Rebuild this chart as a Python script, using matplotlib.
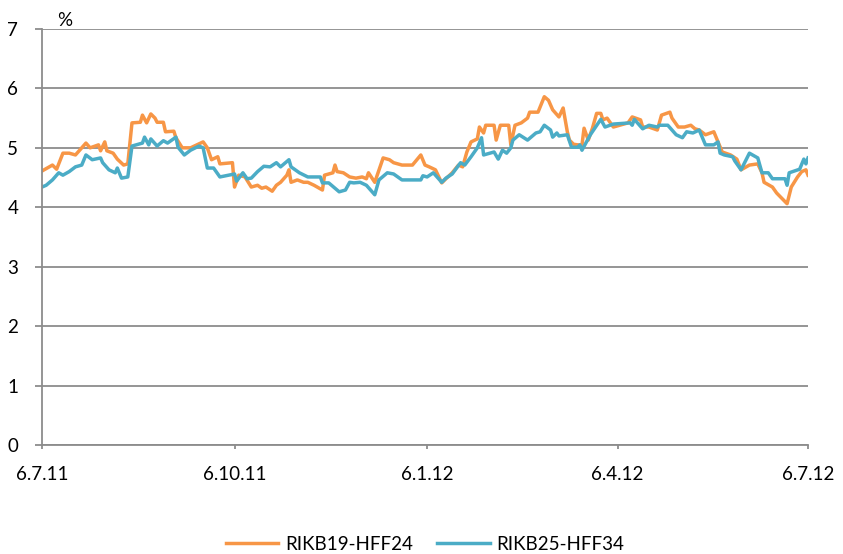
import pandas as pd
import matplotlib
matplotlib.use("Agg")
import matplotlib.pyplot as plt

# data (days after 6.7.11, yield in %)
start = pd.Timestamp("2011-07-06")

days_rikb19 = [0, 5, 7, 10, 13, 16, 18, 21, 23, 27, 28, 30, 31, 34, 36, 39, 41, 42, 43, 47,
               48, 50, 52, 54, 55, 58, 59, 63, 64, 67, 71, 77, 79, 81, 84, 85, 91, 92, 94, 97,
               100, 103, 105, 107, 110, 112, 114, 117, 118, 119, 122, 125, 127, 130, 134, 135, 139, 140, 141, 144,
               147, 150, 153, 155, 156, 159, 163, 166, 168, 172, 177, 181, 183, 185, 188, 191, 193, 196, 199, 201,
               203, 205, 208, 209, 211, 212, 216, 217, 219, 223, 224, 226, 229, 232, 233, 237, 240, 242, 244, 247,
               249, 251, 252, 254, 256, 258, 259, 261, 263, 265, 267, 268, 270, 273, 280, 282, 286, 287, 290, 294,
               296, 300, 301, 304, 307, 310, 312, 314, 317, 321, 323, 325, 329, 332, 334, 338, 342, 344, 345, 349,
               351, 356, 358, 361, 363, 365, 366]
rikb19 = [4.61, 4.71, 4.64, 4.91, 4.91, 4.88, 4.96, 5.08, 5.00, 5.05, 4.95, 5.10, 4.95, 4.91, 4.81, 4.71, 4.73, 5.08, 5.42, 5.43,
          5.55, 5.42, 5.57, 5.50, 5.43, 5.43, 5.27, 5.28, 5.17, 5.00, 5.00, 5.10, 5.00, 4.80, 4.85, 4.73, 4.75, 4.34, 4.54, 4.51,
          4.34, 4.37, 4.32, 4.34, 4.27, 4.37, 4.42, 4.54, 4.63, 4.42, 4.46, 4.42, 4.42, 4.37, 4.29, 4.54, 4.58, 4.71, 4.60, 4.58,
          4.51, 4.49, 4.51, 4.48, 4.58, 4.42, 4.83, 4.80, 4.75, 4.71, 4.71, 4.88, 4.71, 4.68, 4.63, 4.41, 4.48, 4.58, 4.71, 4.68,
          4.93, 5.10, 5.15, 5.35, 5.25, 5.38, 5.38, 5.13, 5.38, 5.38, 5.05, 5.38, 5.42, 5.50, 5.60, 5.60, 5.86, 5.80, 5.64, 5.52,
          5.67, 5.27, 5.13, 5.06, 5.05, 5.05, 5.33, 5.13, 5.33, 5.58, 5.58, 5.47, 5.50, 5.35, 5.42, 5.52, 5.47, 5.35, 5.35, 5.30,
          5.55, 5.60, 5.50, 5.35, 5.35, 5.38, 5.32, 5.30, 5.22, 5.27, 5.10, 4.93, 4.88, 4.81, 4.63, 4.71, 4.73, 4.58, 4.42, 4.34,
          4.24, 4.06, 4.34, 4.51, 4.60, 4.63, 4.54]

days_rikb25 = [0, 2, 5, 8, 10, 13, 16, 19, 21, 24, 28, 29, 32, 35, 36, 38, 41, 43, 48, 49,
               51, 52, 55, 58, 60, 64, 65, 68, 71, 75, 77, 79, 82, 85, 92, 93, 96, 98, 100, 103,
               106, 109, 112, 114, 118, 119, 123, 127, 133, 134, 137, 140, 142, 145, 147, 149, 152, 155, 159, 161,
               165, 168, 172, 181, 182, 184, 187, 191, 193, 196, 200, 202, 205, 208, 210, 211, 214, 216, 218, 220,
               222, 224, 225, 228, 232, 236, 238, 240, 243, 244, 246, 247, 251, 253, 256, 257, 258, 262, 267, 269,
               273, 281, 282, 283, 287, 290, 294, 295, 299, 303, 306, 308, 311, 314, 317, 321, 323, 324, 326, 330,
               331, 334, 338, 342, 344, 347, 349, 355, 356, 357, 362, 364, 365, 366]
rikb25 = [4.34, 4.37, 4.46, 4.58, 4.54, 4.60, 4.68, 4.71, 4.88, 4.80, 4.83, 4.75, 4.63, 4.58, 4.66, 4.49, 4.51, 5.03, 5.08, 5.18,
          5.05, 5.15, 5.03, 5.12, 5.08, 5.18, 5.01, 4.88, 4.96, 5.03, 5.00, 4.66, 4.66, 4.51, 4.56, 4.44, 4.58, 4.48, 4.49, 4.60,
          4.69, 4.68, 4.75, 4.68, 4.80, 4.68, 4.58, 4.51, 4.51, 4.41, 4.41, 4.32, 4.26, 4.29, 4.42, 4.41, 4.42, 4.37, 4.21, 4.46,
          4.58, 4.56, 4.46, 4.46, 4.53, 4.51, 4.58, 4.42, 4.49, 4.56, 4.75, 4.71, 4.85, 5.00, 5.17, 4.88, 4.91, 4.93, 4.81, 4.96,
          4.91, 5.00, 5.13, 5.22, 5.13, 5.25, 5.27, 5.38, 5.30, 5.18, 5.25, 5.20, 5.22, 5.01, 5.01, 5.05, 4.96, 5.22, 5.48, 5.35,
          5.40, 5.42, 5.38, 5.48, 5.32, 5.38, 5.35, 5.38, 5.38, 5.22, 5.17, 5.27, 5.25, 5.30, 5.05, 5.05, 5.10, 4.91, 4.88, 4.85,
          4.78, 4.63, 4.91, 4.83, 4.58, 4.58, 4.48, 4.48, 4.37, 4.58, 4.64, 4.81, 4.73, 4.83]

tick_dates = ["2011-07-06", "2011-10-06", "2012-01-06", "2012-04-06", "2012-07-06"]
tick_labels = ["6.7.11", "6.10.11", "6.1.12", "6.4.12", "6.7.12"]

orange = "#F79646"
blue = "#4BACC6"
grey = "#8C8C8C"

plt.rcParams["font.family"] = ["Lato", "DejaVu Sans"]

fig = plt.figure(figsize=(8.43, 5.54), dpi=100)
ax = fig.add_axes([0.0498, 0.1968, 0.9087, 0.7509])

x19 = start + pd.to_timedelta(days_rikb19, unit="D")
x25 = start + pd.to_timedelta(days_rikb25, unit="D")
ax.plot(x19, rikb19, color=orange, lw=2.5, label="RIKB19-HFF24", solid_joinstyle="round")
ax.plot(x25, rikb25, color=blue, lw=2.5, label="RIKB25-HFF34", solid_joinstyle="round")

ax.set_ylim(0, 7)
ax.set_yticks(range(0, 8))
ax.set_xlim(pd.Timestamp(tick_dates[0]), pd.Timestamp(tick_dates[-1]))
ax.set_xticks(pd.to_datetime(tick_dates))
ax.set_xticklabels(tick_labels)

ax.grid(axis="y", color=grey, lw=1.3)
ax.set_axisbelow(True)
for s in ["top", "right"]:
    ax.spines[s].set_visible(False)
for s in ["left", "bottom"]:
    ax.spines[s].set_color(grey)
    ax.spines[s].set_linewidth(1.3)
ax.tick_params(axis="y", length=5, width=1.3, color=grey, pad=12, labelsize=13.5, labelcolor="black")
ax.tick_params(axis="x", length=3, width=1.3, color=grey, pad=12, labelsize=13.5, labelcolor="black")

ax.text(0.03, 1.0, "%", transform=ax.transAxes, fontsize=13.5, ha="center", va="bottom")

ax.legend(loc="lower center", bbox_to_anchor=(0.5, -0.30), ncol=2, frameon=False,
          fontsize=13.5, handlelength=2.8, columnspacing=1.3, handletextpad=0.35)

fig.savefig("out.png", dpi=100)
